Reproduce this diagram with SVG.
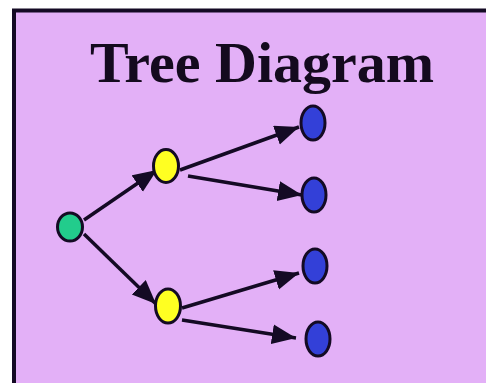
<svg xmlns="http://www.w3.org/2000/svg" width="486" height="383" viewBox="0 0 486 383">
<style>
.node{stroke:#140a24;stroke-width:3}
.g{fill:#22cc8c}.y{fill:#ffff22}.b{fill:#3340d8}
.edge{stroke:#140a24;stroke-width:3.5;fill:none}
.title{font-family:"Liberation Serif","Times New Roman",serif;font-weight:bold;font-size:58px;fill:#140a1e}
</style>
<defs>
<marker id="ah" markerUnits="userSpaceOnUse" markerWidth="26" markerHeight="22" refX="24" refY="10" orient="auto">
<path d="M0,0 L24,10 L0,20 Z" fill="#140a24"/>
</marker>
</defs>
<rect x="0" y="0" width="486" height="383" fill="#ffffff"/>
<rect x="14" y="10.5" width="490" height="390" fill="#e3b0f7" stroke="#140a24" stroke-width="4"/>
<text class="title" x="262" y="82" text-anchor="middle">Tree Diagram</text>
<g id="connectors">
<line class="edge" x1="84" y1="220" x2="157" y2="170" marker-end="url(#ah)"/>
<line class="edge" x1="84" y1="234" x2="156" y2="304" marker-end="url(#ah)"/>
<line class="edge" x1="180" y1="170" x2="299" y2="127" marker-end="url(#ah)"/>
<line class="edge" x1="188" y1="176" x2="302" y2="195" marker-end="url(#ah)"/>
<line class="edge" x1="182" y1="308" x2="299" y2="273" marker-end="url(#ah)"/>
<line class="edge" x1="182" y1="320" x2="296" y2="338" marker-end="url(#ah)"/>
</g>
<g id="root"><ellipse class="node g" cx="70" cy="227" rx="12.5" ry="14"/></g>
<g id="y1"><ellipse class="node y" cx="166" cy="166" rx="12.5" ry="16.5"/></g>
<g id="y2"><ellipse class="node y" cx="168" cy="306" rx="12.5" ry="17"/></g>
<g id="b1"><ellipse class="node b" cx="313" cy="123" rx="12" ry="17"/></g>
<g id="b2"><ellipse class="node b" cx="314" cy="195" rx="12" ry="17"/></g>
<g id="b3"><ellipse class="node b" cx="315" cy="266" rx="12" ry="17"/></g>
<g id="b4"><ellipse class="node b" cx="318" cy="339" rx="12" ry="17"/></g>
</svg>
